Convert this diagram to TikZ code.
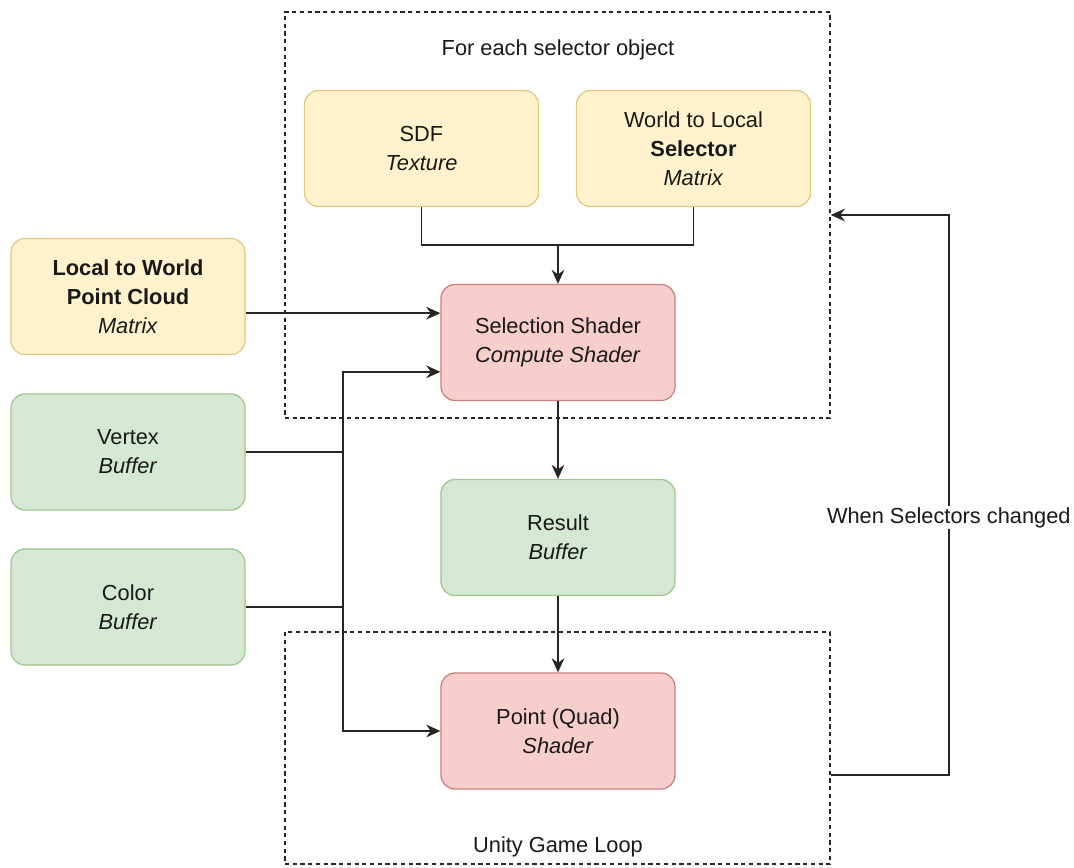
\documentclass[tikz,border=0pt]{standalone}
\usepackage{fontspec}
\setmainfont{Liberation Sans}
\usepackage{xcolor}
\usetikzlibrary{arrows.meta, positioning, calc}
\definecolor{yfill}{HTML}{FFF2CC}
\definecolor{ydraw}{HTML}{D6B656}
\definecolor{gfill}{HTML}{D5E8D4}
\definecolor{gdraw}{HTML}{82B366}
\definecolor{rfill}{HTML}{F8CECC}
\definecolor{rdraw}{HTML}{B85450}

\begin{document}
\begin{tikzpicture}[x=0.025cm, y=-0.025cm,
  block/.style={rectangle, rounded corners=10pt, line width=0.9pt,
                minimum width=5.85cm, minimum height=2.9cm,
                align=center, text=black!90,
                font=\fontsize{15.5}{20.5}\selectfont},
  ybox/.style={block, fill=yfill, draw=ydraw!75},
  gbox/.style={block, fill=gfill, draw=gdraw!75},
  rbox/.style={block, fill=rfill, draw=rdraw!75},
  frame/.style={rectangle, draw=black!85, dash pattern=on 3pt off 2.5pt,
                line width=1pt, minimum width=13.625cm, inner sep=0pt},
  title/.style={text=black!90, font=\fontsize{15.5}{20.5}\selectfont},
  arr/.style={-{Stealth[length=10pt, width=9pt]}, line width=1.4pt, draw=black!85},
  wire/.style={line width=1.4pt, draw=black!85}
]
\useasboundingbox (0,0) rectangle (1074,868);

% Dashed groups
\node[frame, minimum height=10.15cm] (selbox) at (557.5,215) {};
\node[frame, minimum height=5.8cm] (loop) at (557.5,748) {};
\node[title] (seltitle) at (558,50) {For each selector object};
\node[title] (looptitle) at (558,847) {Unity Game Loop};

% Selector inputs
\node[ybox] (sdf) at (421.5,148.5) {SDF\\\textit{Texture}};
\node[ybox] (w2l) at (693.5,148.5) {World to Local\\\textbf{Selector}\\\textit{Matrix}};

% Left column
\node[ybox] (l2w) at (128,296.5) {\textbf{Local to World}\\\textbf{Point Cloud}\\\textit{Matrix}};
\node[gbox] (vtx) at (128,452) {Vertex\\\textit{Buffer}};
\node[gbox] (col) at (128,607) {Color\\\textit{Buffer}};

% Middle column
\node[rbox] (sel) at (558,342.5) {Selection Shader\\\textit{Compute Shader}};
\node[gbox] (res) at (558,537.5) {Result\\\textit{Buffer}};
\node[rbox] (pq) at (558,731) {Point (Quad)\\\textit{Shader}};

% Helper points
\coordinate (join) at (558,245);
\coordinate (bus) at (343,0);
\coordinate (selin1) at ($(sel.north west)!0.25!(sel.south west)$);
\coordinate (selin2) at ($(sel.north west)!0.75!(sel.south west)$);
\coordinate (fb) at ($(loop.north east)!0.617!(loop.south east)$);

% Arrows
\draw[wire] (sdf.south) |- (join);
\draw[wire] (w2l.south) |- (join);
\draw[arr] (join) -- (sel.north);
\draw[arr] (selin1 -| l2w.east) -- (selin1);
\draw[wire] (vtx.east) -- (vtx.east -| bus);
\draw[wire] (col.east) -- (col.east -| bus);
\draw[arr] (pq.west -| bus) -- (selin2 -| bus) -- (selin2);
\draw[arr] (selin2 -| bus) -- (pq.west -| bus) -- (pq.west);
\draw[arr] (sel.south) -- (res.north);
\draw[arr] (res.south) -- (pq.north);
\draw[arr] (fb) -- ++(118,0) |- (selbox.east)
  node[pos=0.23, fill=white, inner sep=1pt, title] (fblabel) {When Selectors changed};
\end{tikzpicture}
\end{document}
